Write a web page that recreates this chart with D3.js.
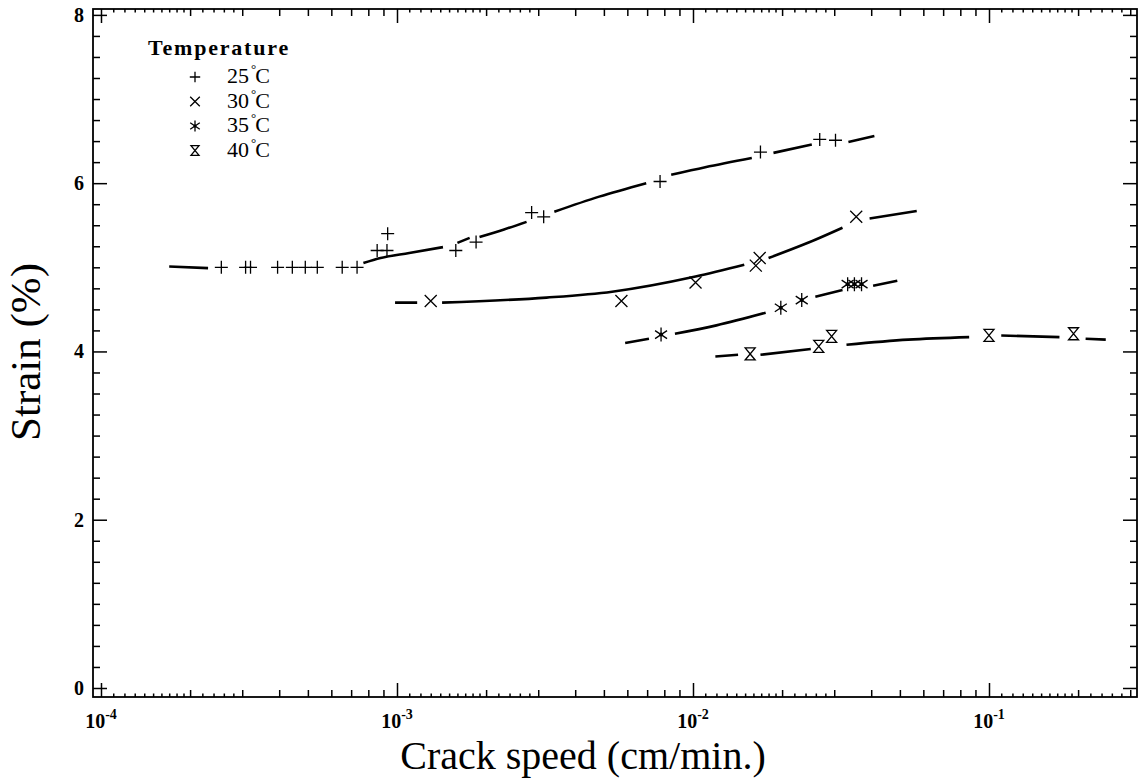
<!DOCTYPE html>
<html>
<head>
<meta charset="utf-8">
<script src="https://cdn.jsdelivr.net/npm/d3@7"></script>
<style>
  html, body { margin: 0; padding: 0; background: #fff; }
  svg { display: block; }
  text { font-family: "Liberation Serif", "Times New Roman", serif; fill: #000; }
</style>
</head>
<body>
<svg id="chart" width="1139" height="780"></svg>
<script>
// ---------- data ----------
const speed25  = [2.55e-4, 3.08e-4, 3.2e-4, 3.95e-4, 4.43e-4, 4.9e-4, 5.38e-4, 6.53e-4, 7.33e-4, 8.57e-4, 9.25e-4, 9.3e-4, 1.58e-3, 1.85e-3, 2.85e-3, 3.13e-3, 7.74e-3, 1.69e-2, 2.68e-2, 3.03e-2];
const strain25 = [5.0, 5.0, 5.0, 5.0, 5.0, 5.0, 5.0, 5.0, 5.0, 5.2, 5.2, 5.4, 5.2, 5.3, 5.65, 5.6, 6.02, 6.37, 6.52, 6.51];
const speed30  = [1.30e-3, 5.73e-3, 1.02e-2, 1.63e-2, 1.68e-2, 3.56e-2];
const strain30 = [4.6, 4.6, 4.82, 5.02, 5.11, 5.6];
const speed35  = [7.8e-3, 1.98e-2, 2.33e-2, 3.33e-2, 3.51e-2, 3.71e-2];
const strain35 = [4.2, 4.52, 4.61, 4.8, 4.8, 4.8];
const speed40  = [1.56e-2, 2.66e-2, 2.94e-2, 0.1, 0.193];
const strain40 = [3.97, 4.06, 4.18, 4.19, 4.21];

// fitted curves (speed, strain); null = break in the drawn line
const fit25 = [[1.7e-4,5.01],[2.3e-4,4.99],null,
  [7.7e-4,5.05],[8.8e-4,5.11],[1.1e-3,5.17],[1.43e-3,5.24],null,
  [1.6e-3,5.29],[1.76e-3,5.35],null,
  [1.9e-3,5.36],[2.3e-3,5.45],[2.74e-3,5.54],null,
  [3.4e-3,5.66],[4.82e-3,5.84],[6.95e-3,6.0],null,
  [8.44e-3,6.10],[1.1e-2,6.19],[1.58e-2,6.30],null,
  [1.87e-2,6.36],[2.52e-2,6.46],null,
  [3.35e-2,6.49],[4.1e-2,6.56]];
const fit30 = [[9.85e-4,4.58],[1.17e-3,4.58],null,
  [1.42e-3,4.58],[3.2e-3,4.64],[5.33e-3,4.71],[1.02e-2,4.89],[1.49e-2,5.03],null,
  [1.8e-2,5.11],[2.6e-2,5.33],[3.2e-2,5.47],null,
  [3.95e-2,5.58],[5.7e-2,5.67]];
const fit35 = [[5.9e-3,4.10],[7.1e-3,4.15],null,
  [8.69e-3,4.21],[1.2e-2,4.31],[1.76e-2,4.46],null,
  [2.59e-2,4.65],[3.2e-2,4.73],null,
  [4.06e-2,4.78],[4.9e-2,4.84]];
const fit40 = [[1.19e-2,3.94],[1.42e-2,3.96],null,
  [1.69e-2,3.96],[2.5e-2,4.03],null,
  [3.3e-2,4.08],[5.33e-2,4.14],[8.57e-2,4.17],null,
  [0.110,4.19],[0.173,4.17],null,
  [0.212,4.15],[0.248,4.14]];

const legendLabels = ["25", "30", "35", "40"];
const markerKinds  = ["plus", "cross", "star", "hourglass"];
const xMajorTicks  = [1e-4, 1e-3, 1e-2, 1e-1];
const xTickExp     = ["-4", "-3", "-2", "-1"];
const yMajorTicks  = [0, 2, 4, 6, 8];

// ---------- layout ----------
const svg = d3.select("#chart");
const L = 93, R = 1137, T = 9, B = 697;
const x = d3.scaleLog().domain([Math.pow(10, -4.027), Math.pow(10, -0.5)]).range([L, R]);
const y = d3.scaleLinear().domain([-0.107, 8.07]).range([B, T]);

// tick value sets
const xMinor = [], xTiny = [];
for (let d = -5; d <= 0; d++) {
  for (let m = 2; m <= 9; m++) xMinor.push(m * Math.pow(10, d));
  for (let k = 1; k <= 9; k++) xTiny.push((1 + k / 10) * Math.pow(10, d));
  for (let k = 1; k <= 4; k++) xTiny.push((2 + k / 5) * Math.pow(10, d));
}
const inX = v => v >= x.domain()[0] && v <= x.domain()[1];
const xMinorIn = xMinor.filter(inX), xTinyIn = xTiny.filter(inX);
const yMinor = d3.range(0, 8.01, 0.25).filter(v => v % 2 !== 0);

function styleAxis(g) {
  g.select(".domain").remove();
  g.selectAll(".tick line").attr("stroke", "#000").attr("stroke-width", 1.5);
  g.selectAll(".tick text").remove();
}
function xAxes(vals, len) {
  svg.append("g").attr("transform", `translate(0,${B})`)
    .call(d3.axisBottom(x).tickValues(vals).tickSize(-len).tickFormat("")).call(styleAxis);
  svg.append("g").attr("transform", `translate(0,${T})`)
    .call(d3.axisTop(x).tickValues(vals).tickSize(-len).tickFormat("")).call(styleAxis);
}
function yAxes(vals, len) {
  svg.append("g").attr("transform", `translate(${L},0)`)
    .call(d3.axisLeft(y).tickValues(vals).tickSize(-len).tickFormat("")).call(styleAxis);
  svg.append("g").attr("transform", `translate(${R},0)`)
    .call(d3.axisRight(y).tickValues(vals).tickSize(-len).tickFormat("")).call(styleAxis);
}
xAxes(xMajorTicks, 14);
xAxes(xMinorIn, 7);
xAxes(xTinyIn, 3.5);
yAxes(yMajorTicks, 14);
yAxes(yMinor, 7);

// frame
svg.append("rect").attr("x", L).attr("y", T).attr("width", R - L).attr("height", B - T)
  .attr("fill", "none").attr("stroke", "#000").attr("stroke-width", 1.8);

// tick labels
xMajorTicks.forEach((v, i) => {
  const t = svg.append("text").attr("x", x(v)).attr("y", 728)
    .attr("text-anchor", "middle").attr("font-weight", "bold").attr("font-size", 20);
  t.append("tspan").text("10");
  t.append("tspan").attr("dy", -9).attr("font-size", 14).text(xTickExp[i]);
});
yMajorTicks.forEach(v => {
  svg.append("text").attr("x", 84).attr("y", y(v)).attr("dy", "0.35em")
    .attr("text-anchor", "end").attr("font-weight", "bold").attr("font-size", 20).text(v);
});

// axis titles
svg.append("text").attr("x", 583).attr("y", 769).attr("text-anchor", "middle")
  .attr("font-size", 40).text("Crack speed (cm/min.)");
svg.append("text").attr("transform", `translate(40,352) rotate(-90)`)
  .attr("text-anchor", "middle").attr("font-size", 43).text("Strain (%)");

// fitted lines
const line = d3.line().defined(d => d !== null).x(d => x(d[0])).y(d => y(d[1])).curve(d3.curveMonotoneX);
[fit25, fit30, fit35, fit40].forEach(f => {
  svg.append("path").attr("d", line(f)).attr("fill", "none")
    .attr("stroke", "#000").attr("stroke-width", 2.6).attr("stroke-linecap", "butt");
});

// markers
function drawMarker(g, kind, s) {
  const k = s || 1;
  if (kind === "plus") {
    g.append("path").attr("d", `M${-6.5*k},0H${6.5*k}M0,${-6.5*k}V${6.5*k}`);
  } else if (kind === "cross") {
    g.append("path").attr("d", `M${-6*k},${-6*k}L${6*k},${6*k}M${-6*k},${6*k}L${6*k},${-6*k}`);
  } else if (kind === "star") {
    g.append("path").attr("d", `M0,${-7*k}V${7*k}M${-6*k},${-4*k}L${6*k},${4*k}M${-6*k},${4*k}L${6*k},${-4*k}`);
    g.append("circle").attr("r", 2 * k).attr("fill", "#000").attr("stroke", "none");
  } else {
    g.append("path").attr("d", `M${-5*k},${-6*k}H${5*k}L${-5*k},${6*k}H${5*k}Z`);
  }
  g.attr("fill", "none").attr("stroke", "#000").attr("stroke-width", 1.3);
}
const series = [[speed25, strain25], [speed30, strain30], [speed35, strain35], [speed40, strain40]];
series.forEach(([sx, sy], si) => {
  sx.forEach((v, i) => {
    const g = svg.append("g").attr("transform", `translate(${x(v)},${y(sy[i])})`);
    drawMarker(g, markerKinds[si], 1);
  });
});

// legend
svg.append("text").attr("x", 148).attr("y", 55).attr("font-size", 22).attr("font-weight", "bold")
  .attr("letter-spacing", 1.8).text("Temperature");
legendLabels.forEach((lab, i) => {
  const cy = 77 + 24.5 * i;
  const g = svg.append("g").attr("transform", `translate(195,${cy})`);
  drawMarker(g, markerKinds[i], 0.8);
  const t = svg.append("text").attr("x", 227).attr("y", cy + 6).attr("font-size", 22);
  t.append("tspan").text(lab);
  t.append("tspan").attr("dy", -10).attr("dx", 2).attr("font-size", 13).text("°");
  t.append("tspan").attr("dy", 10).attr("dx", -1).text("C");
});
</script>
</body>
</html>
